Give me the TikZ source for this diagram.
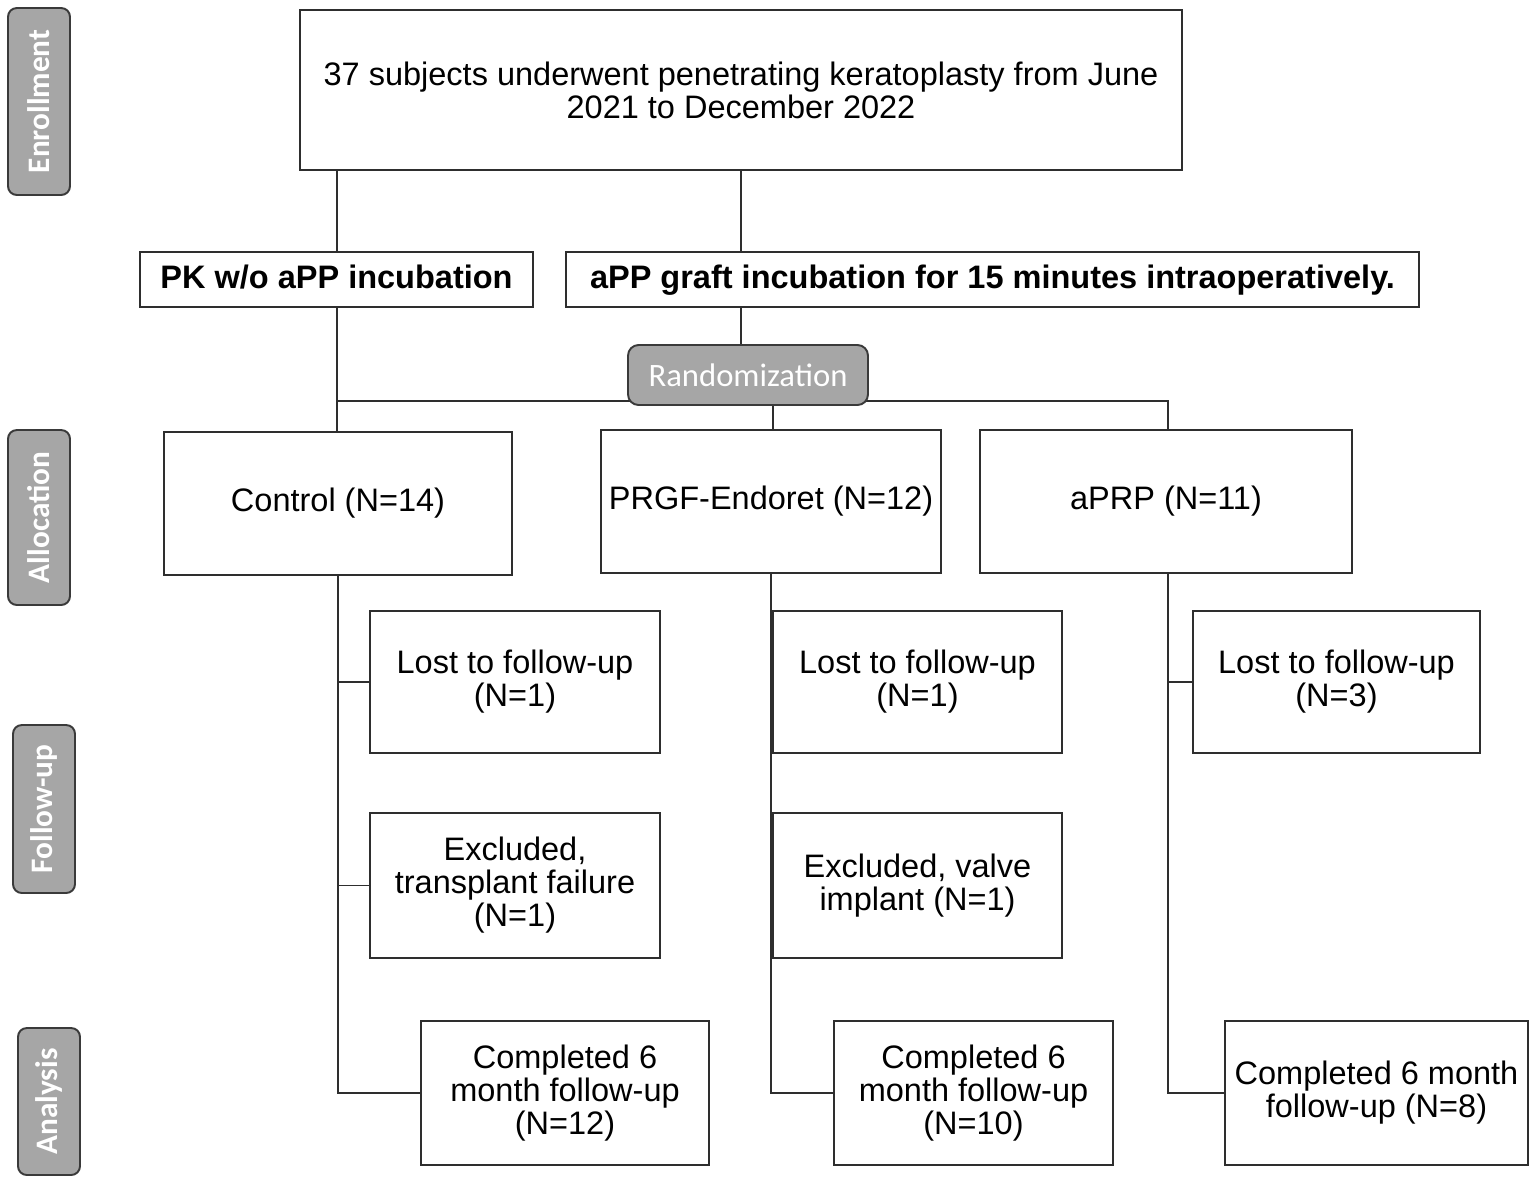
\documentclass[tikz,border=0pt]{standalone}
\usepackage{fontspec}
\setmainfont{Liberation Sans}
\newfontfamily\calfont{Carlito}
\usetikzlibrary{backgrounds}
\definecolor{lc}{HTML}{2E2E2E}
\definecolor{gfill}{HTML}{A6A6A6}
\definecolor{gline}{HTML}{3A3A3A}
\begin{document}
\begin{tikzpicture}[x=0.02cm,y=-0.02cm,
  box/.style={draw=lc, line width=1.1pt, fill=white, align=center, inner sep=2pt,
    font=\fontsize{18.5}{18.8}\selectfont},
  bbox/.style={box, font=\fontsize{18.5}{18.8}\selectfont\bfseries, text height=13.5pt, text depth=3pt},
  side/.style={draw=gline, line width=1.1pt, fill=gfill, rounded corners=5pt, text=white,
    rotate=90, inner sep=0pt, minimum height=1.24cm, font=\calfont\bfseries\fontsize{17.8}{17.8}\selectfont},
  randbox/.style={draw=gline, line width=1.1pt, fill=gfill, rounded corners=6pt, text=white,
    inner sep=0pt, minimum width=4.8cm, minimum height=1.2cm, font=\calfont\fontsize{18.6}{18.6}\selectfont},
  conn/.style={draw=lc, line width=1.1pt}
]
\useasboundingbox (0,0) rectangle (1535,1184);

% side labels
\node[side, minimum width=3.74cm] (enr) at (39,101.5) {Enrollment};
\node[side, minimum width=3.5cm] (alloc) at (39,517.5) {Allocation};
\node[side, minimum width=3.36cm] (fup) at (44,809) {Follow-up};
\node[side, minimum width=2.94cm] (ana) at (49,1101.5) {Analysis};

% main boxes
\node[box, minimum width=17.64cm, minimum height=3.2cm] (top) at (741,90)
  {37 subjects underwent penetrating keratoplasty from June\\2021 to December 2022};
\node[bbox, minimum width=7.86cm, minimum height=1.1cm] (pk) at (336.5,279.5) {PK w/o aPP incubation};
\node[bbox, minimum width=17.06cm, minimum height=1.1cm] (app) at (992.5,279.5)
  {aPP graft incubation for 15 minutes intraoperatively.};
\node[randbox] (rand) at (748,375) {Randomization};

\node[box, minimum width=6.96cm, minimum height=2.86cm] (ctrl) at (338,503.5) {Control (N=14)};
\node[box, minimum width=6.8cm, minimum height=2.86cm] (prgf) at (771,501.5) {PRGF-Endoret (N=12)};
\node[box, minimum width=7.44cm, minimum height=2.86cm] (aprp) at (1166,501.5) {aPRP (N=11)};

\node[box, minimum width=5.8cm, minimum height=2.84cm] (cl) at (515,682) {Lost to follow-up\\(N=1)};
\node[box, minimum width=5.8cm, minimum height=2.9cm] (ce) at (515,885.5) {Excluded,\\transplant failure\\(N=1)};
\node[box, minimum width=5.76cm, minimum height=2.88cm] (cc) at (565,1093) {Completed 6\\month follow-up\\(N=12)};

\node[box, minimum width=5.78cm, minimum height=2.84cm] (pl) at (917.5,682) {Lost to follow-up\\(N=1)};
\node[box, minimum width=5.78cm, minimum height=2.9cm] (pe) at (917.5,885.5) {Excluded, valve\\implant (N=1)};
\node[box, minimum width=5.58cm, minimum height=2.88cm] (pc) at (973.5,1093) {Completed 6\\month follow-up\\(N=10)};

\node[box, minimum width=5.74cm, minimum height=2.84cm] (al) at (1336.5,682) {Lost to follow-up\\(N=3)};
\node[box, minimum width=6.06cm, minimum height=2.88cm] (ac) at (1376.5,1093) {Completed 6 month\\follow-up (N=8)};

\coordinate (hy) at (0,401);
\coordinate (tl) at (337,0);

\begin{scope}[on background layer]
\draw[conn] (tl |- top.south) -- (tl |- pk.north);
\draw[conn] (top.south) -- (top.south |- app.north);
\draw[conn] (top.south |- app.south) -- (top.south |- rand.north);
\draw[conn] (tl |- pk.south) -- (tl |- ctrl.north);
\draw[conn] (tl |- hy) -- (1168,401) -- (1168,430);
\draw[conn] (773,405) -- (773,430);
% control branch
\draw[conn] (338,575) -- (338,1093) -- (cc.west);
\draw[conn] (338,682) -- (cl.west);
\draw[conn] (338,885.5) -- (ce.west);
% PRGF branch
\draw[conn] (771,573) -- (771,1093) -- (pc.west);
% aPRP branch
\draw[conn] (1168,573) -- (1168,1093) -- (ac.west);
\draw[conn] (1168,682) -- (al.west);
\end{scope}
\end{tikzpicture}
\end{document}
